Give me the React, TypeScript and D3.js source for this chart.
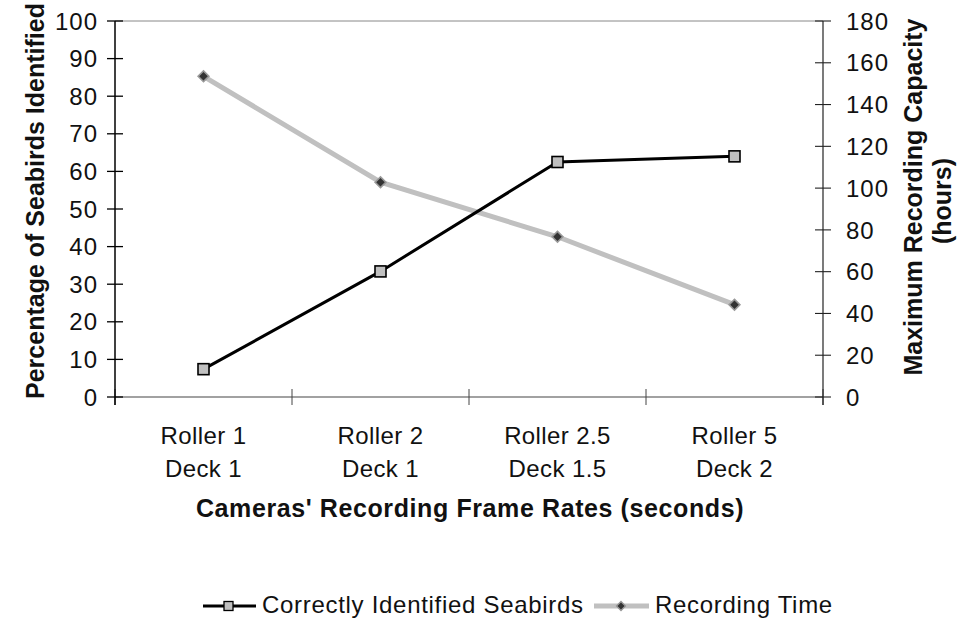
import React, { useEffect, useRef } from "react";
import * as d3 from "d3";

// --- data ---
const categories = ["Roller 1|Deck 1", "Roller 2|Deck 1", "Roller 2.5|Deck 1.5", "Roller 5|Deck 2"];
const seabirdsPct = [7.4, 33.4, 62.5, 64.0];
const recordingHours = [153.5, 102.8, 76.7, 44.2];
const leftTicks = d3.range(0, 101, 10);
const rightTicks = d3.range(0, 181, 20);

const W = 963;
const H = 622;
const FONT = "Liberation Sans, Arial, Helvetica, sans-serif";

export default function App() {
  const svgRef = useRef<SVGSVGElement | null>(null);

  useEffect(() => {
    const svg = d3.select(svgRef.current);
    svg.selectAll("*").remove();

    const left = 115, right = 823, top = 21, bottom = 397;

    const x = d3.scaleBand<number>().domain(d3.range(categories.length)).range([left, right]);
    const yL = d3.scaleLinear().domain([0, 100]).range([bottom, top]);
    const yR = d3.scaleLinear().domain([0, 180]).range([bottom, top]);
    const cx = (i: number) => (x(i) as number) + x.bandwidth() / 2;

    const g = svg.append("g").attr("font-family", FONT);

    // plot frame: grey top line, bottom axis
    g.append("line").attr("x1", left).attr("x2", right).attr("y1", top).attr("y2", top)
      .attr("stroke", "#888").attr("stroke-width", 1);
    g.append("line").attr("x1", left).attr("x2", right).attr("y1", bottom).attr("y2", bottom)
      .attr("stroke", "#444").attr("stroke-width", 1.2);

    // category ticks
    const catEdges = d3.range(categories.length + 1).map(i => left + i * x.step());
    g.selectAll(".ctick").data(catEdges).join("line")
      .attr("x1", d => d).attr("x2", d => d).attr("y1", bottom - 8).attr("y2", bottom + 8)
      .attr("stroke", "#444").attr("stroke-width", 1);

    // left axis
    g.append("line").attr("x1", left).attr("x2", left).attr("y1", top).attr("y2", bottom + 8)
      .attr("stroke", "#000").attr("stroke-width", 1.5);
    g.selectAll(".ltick").data(leftTicks).join("line")
      .attr("x1", left - 8).attr("x2", left + 8).attr("y1", d => yL(d)).attr("y2", d => yL(d))
      .attr("stroke", "#000").attr("stroke-width", 1.3);
    g.selectAll(".llab").data(leftTicks).join("text")
      .attr("x", left - 17).attr("y", d => yL(d)).attr("dy", "0.36em")
      .attr("text-anchor", "end").attr("font-size", 24).attr("letter-spacing", 1).attr("fill", "#111")
      .text(d => d);

    // right axis
    g.append("line").attr("x1", right).attr("x2", right).attr("y1", top).attr("y2", bottom + 8)
      .attr("stroke", "#222").attr("stroke-width", 1.2);
    g.selectAll(".rtick").data(rightTicks).join("line")
      .attr("x1", right - 8).attr("x2", right + 8).attr("y1", d => yR(d)).attr("y2", d => yR(d))
      .attr("stroke", "#222").attr("stroke-width", 1.1);
    g.selectAll(".rlab").data(rightTicks).join("text")
      .attr("x", right + 23).attr("y", d => yR(d)).attr("dy", "0.36em")
      .attr("text-anchor", "start").attr("font-size", 24).attr("letter-spacing", 1).attr("fill", "#111")
      .text(d => d);

    // category labels (two lines)
    const cl = g.selectAll(".clab").data(categories).join("text")
      .attr("text-anchor", "middle").attr("font-size", 24).attr("letter-spacing", 0.4).attr("fill", "#111");
    cl.append("tspan").attr("x", (d, i) => cx(i)).attr("y", 444).text(d => d.split("|")[0]);
    cl.append("tspan").attr("x", (d, i) => cx(i)).attr("y", 477).text(d => d.split("|")[1]);

    // axis titles
    g.append("text").attr("x", (left + right) / 2 + 1).attr("y", 517)
      .attr("text-anchor", "middle").attr("font-size", 25).attr("font-weight", "bold")
      .attr("letter-spacing", 0.6)
      .attr("fill", "#111").text("Cameras' Recording Frame Rates (seconds)");

    g.append("text").attr("transform", `translate(44,201) rotate(-90)`)
      .attr("text-anchor", "middle").attr("font-size", 25).attr("font-weight", "bold")
      .attr("fill", "#111").text("Percentage of Seabirds Identified");

    const rt = g.append("text").attr("transform", `translate(922,197) rotate(-90)`)
      .attr("text-anchor", "middle").attr("font-size", 25).attr("font-weight", "bold").attr("fill", "#111");
    rt.append("tspan").attr("x", 0).attr("y", 0).text("Maximum Recording Capacity");
    rt.append("tspan").attr("x", -4).attr("y", 29).text("(hours)");

    // recording time line (grey, right axis)
    const lineR = d3.line<number>().x((d, i) => cx(i)).y(d => yR(d));
    g.append("path").attr("d", lineR(recordingHours)).attr("fill", "none")
      .attr("stroke", "#c0c0c0").attr("stroke-width", 5);
    g.selectAll(".dm").data(recordingHours).join("path")
      .attr("transform", (d, i) => `translate(${cx(i)},${yR(d)}) rotate(45)`)
      .attr("d", d3.symbol().type(d3.symbolSquare).size(58)())
      .attr("fill", "#333").attr("stroke", "#999").attr("stroke-width", 1.6);

    // seabirds line (black, left axis)
    const lineL = d3.line<number>().x((d, i) => cx(i)).y(d => yL(d));
    g.append("path").attr("d", lineL(seabirdsPct)).attr("fill", "none")
      .attr("stroke", "#000").attr("stroke-width", 3);
    g.selectAll(".sq").data(seabirdsPct).join("rect")
      .attr("x", (d, i) => cx(i) - 5.5).attr("y", d => yL(d) - 5.5)
      .attr("width", 11).attr("height", 11)
      .attr("fill", "#c0c0c0").attr("stroke", "#000").attr("stroke-width", 1.6);

    // legend
    const ly = 606;
    const leg = g.append("g");
    leg.append("line").attr("x1", 203).attr("x2", 256).attr("y1", ly).attr("y2", ly)
      .attr("stroke", "#000").attr("stroke-width", 3);
    leg.append("rect").attr("x", 224).attr("y", ly - 4.5).attr("width", 9).attr("height", 9)
      .attr("fill", "#c0c0c0").attr("stroke", "#000").attr("stroke-width", 1.3);
    leg.append("text").attr("x", 262).attr("y", 613)
      .attr("font-size", 24).attr("letter-spacing", 0.7).attr("fill", "#111").text("Correctly Identified Seabirds");
    leg.append("line").attr("x1", 594).attr("x2", 649).attr("y1", ly).attr("y2", ly)
      .attr("stroke", "#c0c0c0").attr("stroke-width", 5);
    leg.append("path").attr("transform", `translate(621,${ly}) rotate(45)`)
      .attr("d", d3.symbol().type(d3.symbolSquare).size(40)())
      .attr("fill", "#333").attr("stroke", "#999").attr("stroke-width", 1.3);
    leg.append("text").attr("x", 655).attr("y", 613)
      .attr("font-size", 24).attr("letter-spacing", 0.7).attr("fill", "#111").text("Recording Time");
  }, []);

  return (
    <svg ref={svgRef} width={W} height={H}
      style={{ position: "absolute", left: 0, top: 0, background: "#fff" }} />
  );
}
